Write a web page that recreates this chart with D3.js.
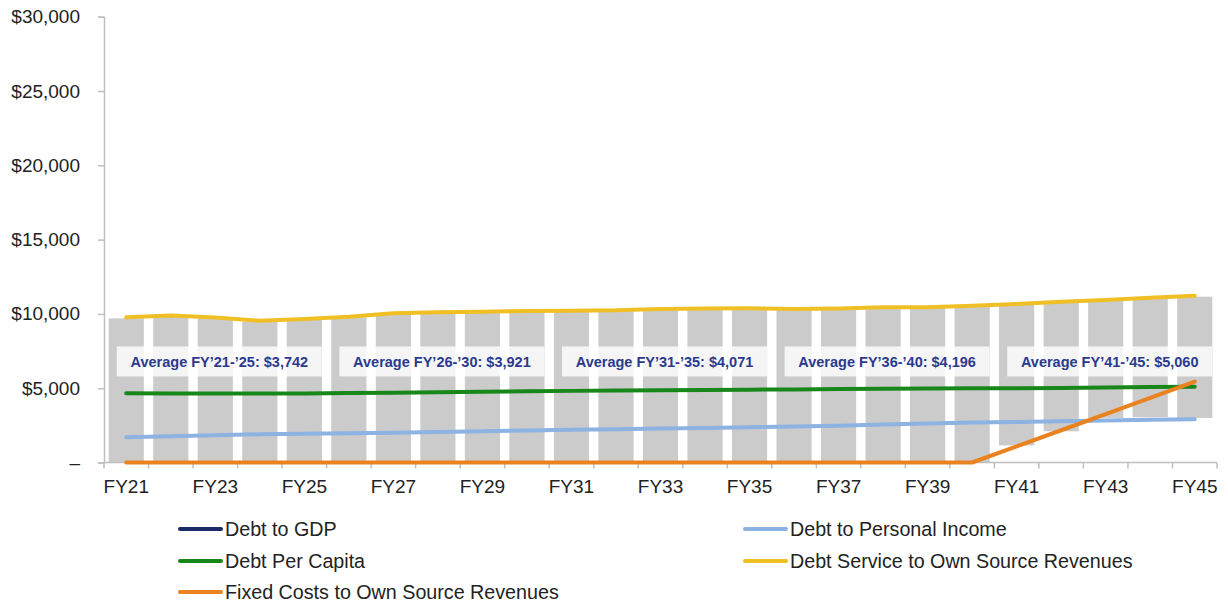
<!DOCTYPE html>
<html>
<head>
<meta charset="utf-8">
<script src="https://cdn.jsdelivr.net/npm/d3@7"></script>
<style>
  body { margin: 0; background: #fff; }
  svg text { font-family: "Liberation Sans", Arial, sans-serif; }
</style>
</head>
<body>
<svg id="chart" width="1228" height="604"></svg>
<script>
const years = ["FY21","FY22","FY23","FY24","FY25","FY26","FY27","FY28","FY29","FY30",
  "FY31","FY32","FY33","FY34","FY35","FY36","FY37","FY38","FY39","FY40",
  "FY41","FY42","FY43","FY44","FY45"]

// gray range bars (bottom / top)
const barLow = [0,0,0,0,0,0,0,0,0,0,0,0,0,0,0,0,0,0,0,0,1150,2100,3000,3050,3000]
const barHigh = [9700,9860,9710,9480,9600,9760,9980,10060,10100,10140,10180,10200,10280,10320,10330,
  10290,10320,10390,10400,10500,10620,10770,10890,11030,11160]

// debt to GDP sits under the personal income line in the picture
const debtToGDP = [1700,1760,1830,1900,1940,1970,2000,2050,2100,2150,2200,2240,2280,2330,2380,
  2420,2480,2550,2620,2690,2730,2780,2830,2870,2910]
const debtToIncome = [1700,1760,1830,1900,1940,1970,2000,2050,2100,2150,2200,2240,2280,2330,2380,
  2420,2480,2550,2620,2690,2730,2780,2830,2870,2910]
const debtPerCapita = [4660,4650,4640,4640,4650,4670,4700,4730,4760,4790,4820,4840,4860,4880,4900,
  4920,4940,4960,4980,4990,5000,5020,5050,5080,5100]
const debtService = [9770,9900,9760,9540,9660,9810,10040,10110,10150,10190,10220,10240,10330,10370,10380,
  10330,10370,10440,10450,10550,10670,10820,10940,11090,11220]
const fixedCosts = [0,0,0,0,0,0,0,0,0,0,0,0,0,0,0,0,0,0,0,0,1080,2170,3260,4350,5450]

const avgLabels = ["Average FY\u201921-\u201925: $3,742", "Average FY\u201926-\u201930: $3,921",
  "Average FY\u201931-\u201935: $4,071", "Average FY\u201936-\u201940: $4,196", "Average FY\u201941-\u201945: $5,060"]
const avgLevel = 6800

const yTicks = [0, 5000, 10000, 15000, 20000, 25000, 30000]

const series = [
  { name: "Debt to GDP", values: debtToGDP, color: "#1c2a66", width: 2.5 },
  { name: "Debt to Personal Income", values: debtToIncome, color: "#8db3e2", width: 4 },
  { name: "Debt Per Capita", values: debtPerCapita, color: "#17871a", width: 4 },
  { name: "Debt Service to Own Source Revenues", values: debtService, color: "#f0bf24", width: 4 },
  { name: "Fixed Costs to Own Source Revenues", values: fixedCosts, color: "#e9821f", width: 4 }
]

const layout = { left: 104, right: 1217, top: 16.7, bottom: 462.5 }
const svg = d3.select("#chart")

const x = d3.scaleBand()
  .domain(years)
  .range([layout.left, layout.right])
  .paddingInner(0.21)
  .paddingOuter(0.105)

const y = d3.scaleLinear()
  .domain([0, 30000])
  .range([layout.bottom, layout.top])

const cx = d => x(d) + x.bandwidth() / 2

// bars
svg.append("g")
  .selectAll("rect")
  .data(years)
  .join("rect")
  .attr("x", d => x(d))
  .attr("width", x.bandwidth())
  .attr("y", (d, i) => y(barHigh[i]))
  .attr("height", (d, i) => y(barLow[i]) - y(barHigh[i]))
  .attr("fill", "#cbcbcb")

// y axis
const yAxis = svg.append("g")
  .attr("transform", `translate(${layout.left},0)`)
  .call(d3.axisLeft(y)
    .tickValues(yTicks)
    .tickSize(6)
    .tickPadding(18)
    .tickFormat(d => d === 0 ? "\u2013" : "$" + d3.format(",")(d)))
yAxis.select(".domain").attr("stroke", "#bfbfbf").attr("stroke-width", 1.5)
yAxis.selectAll(".tick line").attr("stroke", "#bfbfbf").attr("stroke-width", 1.5)
yAxis.selectAll(".tick text")
  .attr("font-size", 19).attr("fill", "#222")
  .attr("font-family", "Liberation Sans, Arial, sans-serif")

// x axis
const step = x.step()
const boundaries = d3.range(years.length + 1).map(i => layout.left + i * step)
const xg = svg.append("g")
xg.append("line")
  .attr("x1", layout.left).attr("x2", layout.right)
  .attr("y1", layout.bottom).attr("y2", layout.bottom)
  .attr("stroke", "#bfbfbf").attr("stroke-width", 1.5)
xg.selectAll("line.tk")
  .data(boundaries)
  .join("line")
  .attr("class", "tk")
  .attr("x1", d => d).attr("x2", d => d)
  .attr("y1", layout.bottom).attr("y2", layout.bottom + 6)
  .attr("stroke", "#bfbfbf").attr("stroke-width", 1.5)

const xAxis = svg.append("g")
  .attr("transform", `translate(0,${layout.bottom})`)
  .call(d3.axisBottom(x)
    .tickValues(years.filter((d, i) => i % 2 === 0))
    .tickSize(0)
    .tickPadding(17))
xAxis.select(".domain").remove()
xAxis.selectAll(".tick text")
  .attr("font-size", 19).attr("fill", "#222")
  .attr("font-family", "Liberation Sans, Arial, sans-serif")

// average boxes
const boxW = 205, boxH = 30
const boxes = svg.append("g")
  .selectAll("g")
  .data(avgLabels)
  .join("g")
  .attr("transform", (d, i) => {
    const a = x(years[i * 5])
    const b = x(years[i * 5 + 4]) + x.bandwidth()
    return `translate(${(a + b) / 2 + 4},${y(avgLevel)})`
  })
boxes.append("rect")
  .attr("x", -boxW / 2).attr("y", -boxH / 2)
  .attr("width", boxW).attr("height", boxH)
  .attr("fill", "#ffffff").attr("fill-opacity", 0.8)
boxes.append("text")
  .attr("text-anchor", "middle")
  .attr("dy", "0.35em")
  .attr("font-size", 14.5)
  .attr("font-weight", "bold")
  .attr("fill", "#2c3a8e")
  .text(d => d)

// lines
const line = d3.line()
  .x((d, i) => cx(years[i]))
  .y(d => y(d))

svg.append("g")
  .selectAll("path")
  .data(series)
  .join("path")
  .attr("d", d => line(d.values))
  .attr("fill", "none")
  .attr("stroke", d => d.color)
  .attr("stroke-width", d => d.width)
  .attr("stroke-linejoin", "round")
  .attr("stroke-linecap", "round")

// legend
const legendPos = [
  { x: 180, y: 529 }, { x: 745, y: 529 },
  { x: 180, y: 561 }, { x: 745, y: 561 },
  { x: 180, y: 592 }
]
const legend = svg.append("g")
  .selectAll("g")
  .data(series)
  .join("g")
  .attr("transform", (d, i) => `translate(${legendPos[i].x},${legendPos[i].y})`)
legend.append("line")
  .attr("x1", 0).attr("x2", 41)
  .attr("stroke", d => d.color)
  .attr("stroke-width", 4)
  .attr("stroke-linecap", "round")
legend.append("text")
  .attr("x", 45)
  .attr("dy", "0.35em")
  .attr("font-size", 19.7)
  .attr("fill", "#222")
  .text(d => d.name)
</script>
</body>
</html>
